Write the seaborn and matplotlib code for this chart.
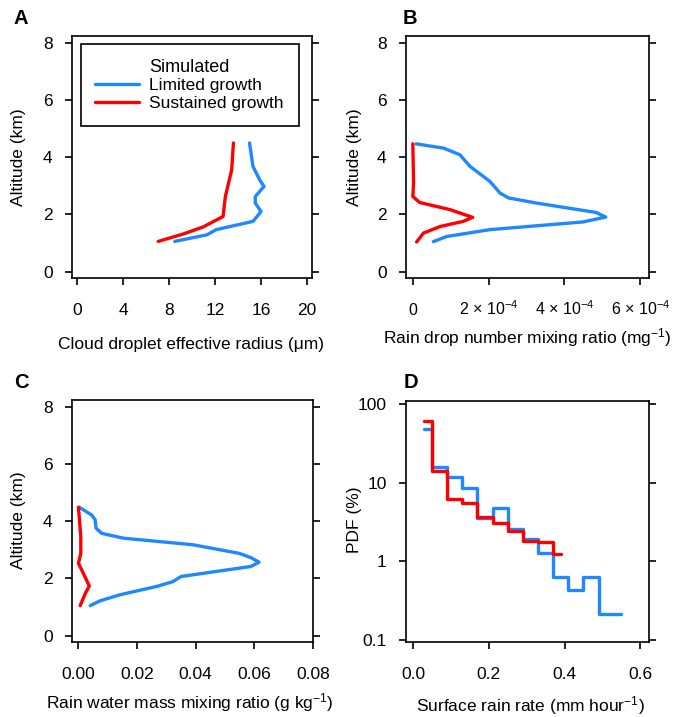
import numpy as np
import pandas as pd
import matplotlib
matplotlib.use("Agg")
import matplotlib.pyplot as plt
import seaborn as sns
from matplotlib.lines import Line2D

# ---------------- data ----------------
# Panel A: cloud droplet effective radius (um) vs altitude (km)
a_lim_r = [15.0, 15.3, 15.9, 16.26, 15.5, 15.5, 16.0, 15.3, 12.1, 11.3, 8.5]
a_lim_z = [4.5, 3.68, 3.2, 2.98, 2.63, 2.4, 2.1, 1.76, 1.47, 1.29, 1.06]
a_sus_r = [13.6, 13.45, 12.9, 12.7, 11.0, 9.25, 7.07]
a_sus_z = [4.5, 3.56, 2.63, 1.93, 1.57, 1.32, 1.06]

# Panel B: rain drop number mixing ratio (mg^-1)
b_lim_n = [0.087e-4, 0.81e-4, 1.24e-4, 1.51e-4, 2.03e-4, 2.30e-4, 2.52e-4, 3.26e-4,
           4.84e-4, 5.09e-4, 4.49e-4, 2.03e-4, 0.89e-4, 0.54e-4]
b_lim_z = [4.47, 4.32, 4.09, 3.68, 3.16, 2.75, 2.58, 2.40, 2.07, 1.91, 1.74, 1.47, 1.23, 1.05]
b_sus_n = [0.0, 0.02e-4, 0.0, 0.18e-4, 0.98e-4, 1.58e-4, 1.33e-4, 0.72e-4, 0.28e-4, 0.10e-4]
b_sus_z = [4.47, 3.1, 2.63, 2.42, 2.17, 1.90, 1.76, 1.58, 1.35, 1.04]

# Panel C: rain water mass mixing ratio (g kg^-1)
c_lim_q = [0.0003, 0.0045, 0.0057, 0.006, 0.0079, 0.0153, 0.039, 0.0548, 0.0588, 0.0616,
           0.0588, 0.035, 0.0322, 0.0266, 0.0141, 0.0074, 0.004]
c_lim_z = [4.49, 4.22, 4.05, 3.76, 3.58, 3.41, 3.18, 2.88, 2.73, 2.57, 2.42, 2.07, 1.89,
           1.72, 1.43, 1.22, 1.05]
c_sus_q = [0.0, 0.0008, 0.0008, 0.0, 0.0011, 0.0037, 0.0023, 0.0006]
c_sus_z = [4.49, 3.46, 2.88, 2.53, 2.30, 1.74, 1.47, 1.05]

# Panel D: PDF (%) of surface rain rate (mm hour^-1), step edges
d_lim_x = [0.03, 0.05, 0.09, 0.13, 0.17, 0.21, 0.25, 0.29, 0.33, 0.37, 0.41, 0.45, 0.49, 0.55]
d_lim_p = [48.1, 15.7, 11.7, 8.65, 3.52, 4.73, 2.56, 1.93, 1.27, 0.628, 0.425, 0.628, 0.213, 0.213]
d_sus_x = [0.03, 0.05, 0.09, 0.13, 0.17, 0.21, 0.25, 0.29, 0.33, 0.37, 0.39]
d_sus_p = [61.4, 14.1, 6.2, 5.47, 3.63, 3.05, 2.43, 1.83, 1.78, 1.23, 1.23]

series_names = ["Limited growth", "Sustained growth"]
palette = {"Limited growth": "#1E88FF", "Sustained growth": "#FF0000"}

alt_ticks = [0, 2, 4, 6, 8]
a_xticks = [0, 4, 8, 12, 16, 20]
b_xticks = [0, 2e-4, 4e-4, 6e-4]
b_xticklabels = ["0", "2 \u00d7 10$^{-4}$", "4 \u00d7 10$^{-4}$", "6 \u00d7 10$^{-4}$"]
c_xticks = [0, 0.02, 0.04, 0.06, 0.08]
c_xticklabels = ["0.00", "0.02", "0.04", "0.06", "0.08"]
d_xticks = [0, 0.2, 0.4, 0.6]
d_xticklabels = ["0.0", "0.2", "0.4", "0.6"]
d_yticks = [0.1, 1, 10, 100]
d_yticklabels = ["0.1", "1", "10", "100"]

# ---------------- style ----------------
sns.set_theme(style="ticks")
plt.rcParams["font.family"] = ["Liberation Sans", "DejaVu Sans"]
plt.rcParams["mathtext.fontset"] = "custom"
plt.rcParams["mathtext.rm"] = "Liberation Sans"
plt.rcParams["mathtext.it"] = "Liberation Sans:italic"
plt.rcParams["mathtext.bf"] = "Liberation Sans:bold"
plt.rcParams["text.color"] = "black"

FS = 12.5
LW = 2.4

def long_frame(xs_lim, zs_lim, xs_sus, zs_sus):
    return pd.concat([
        pd.DataFrame({"x": xs_lim, "y": zs_lim, "Simulated": series_names[0]}),
        pd.DataFrame({"x": xs_sus, "y": zs_sus, "Simulated": series_names[1]}),
    ], ignore_index=True)

fig = plt.figure(figsize=(6.79, 7.17), dpi=100)
W, H = 679, 717
def add_ax(l, t, r, b):
    return fig.add_axes([l / W, 1 - b / H, (r - l) / W, (b - t) / H])

axA = add_ax(72, 36, 312, 278)
axB = add_ax(406, 36, 649, 278)
axC = add_ax(72, 400, 313, 642)
axD = add_ax(406, 401, 649, 642)

def style_ax(ax):
    for s in ax.spines.values():
        s.set_linewidth(1.2)
        s.set_color("black")
    ax.tick_params(axis="both", which="major", direction="out", length=5, width=1.2,
                   labelsize=FS, colors="black")
    ax.tick_params(axis="x", pad=21.5)
    ax.tick_params(axis="y", pad=9, right=True, labelright=False)
    ax.grid(False)
    ax.set_xlabel("")
    ax.set_ylabel("")

def profile(ax, df, **kw):
    sns.lineplot(data=df, x="x", y="y", hue="Simulated", units="Simulated", estimator=None,
                 sort=False, palette=palette, lw=LW, ax=ax, legend=False, **kw)

profile(axA, long_frame(a_lim_r, a_lim_z, a_sus_r, a_sus_z))
profile(axB, long_frame(b_lim_n, b_lim_z, b_sus_n, b_sus_z))
profile(axC, long_frame(c_lim_q, c_lim_z, c_sus_q, c_sus_z))
profile(axD, long_frame(d_lim_x, d_lim_p, d_sus_x, d_sus_p), drawstyle="steps-post")

for ax in (axA, axB, axC):
    ax.set_ylim(-0.22, 8.24)
    ax.set_yticks(alt_ticks)
    ax.set_yticklabels([str(v) for v in alt_ticks])

axA.set_xlim(-0.43, 20.43)
axA.set_xticks(a_xticks)
axA.set_xticklabels([str(v) for v in a_xticks])

axB.set_xlim(-0.18e-4, 6.23e-4)
axB.set_xticks(b_xticks)
axB.set_xticklabels(b_xticklabels)

axC.set_xlim(-0.0022, 0.0797)
axC.set_xticks(c_xticks)
axC.set_xticklabels(c_xticklabels)

axD.set_yscale("log")
axD.set_ylim(0.0935, 110)
axD.set_yticks(d_yticks)
axD.set_yticklabels(d_yticklabels)
axD.minorticks_off()
axD.set_xlim(-0.0184, 0.623)
axD.set_xticks(d_xticks)
axD.set_xticklabels(d_xticklabels)

for ax in (axA, axB, axC, axD):
    style_ax(ax)
    for t in ax.get_xticklabels():
        t.set_verticalalignment("baseline")
axD.tick_params(axis="y", which="minor", right=False, left=False)
for t in axB.get_xticklabels():
    t.set_fontsize(11.5)

def ftext(x, y, s, **kw):
    fig.text(x / W, 1 - y / H, s, fontsize=FS, color="black", ha="center", va="center", **kw)

ftext(191, 345, "Cloud droplet effective radius (\u03bcm)")
ftext(527, 338, r"Rain drop number mixing ratio (mg$^{-1}$)")
ftext(190, 703, r"Rain water mass mixing ratio (g kg$^{-1}$)")
ftext(530, 706, r"Surface rain rate (mm hour$^{-1}$)")
ftext(19, 157, "Altitude (km)", rotation=90)
ftext(355, 157, "Altitude (km)", rotation=90)
ftext(19, 520, "Altitude (km)", rotation=90)
ftext(355, 520, "PDF (%)", rotation=90)

for lab, x, y in [("A", 21, 19), ("B", 410, 19), ("C", 21, 383), ("D", 411, 383)]:
    fig.text(x / W, 1 - y / H, lab, fontsize=14.5, fontweight="bold", color="black",
             ha="center", va="center")

# legend in panel A
handles = [Line2D([], [], color=palette[n], lw=LW) for n in series_names]
leg = axA.legend(handles, series_names, title="Simulated", loc="upper left",
                 bbox_to_anchor=(0.036, 0.967, 0.91, 0.0), mode="expand",
                 frameon=True, fancybox=False, fontsize=12.5, title_fontsize=13,
                 handlelength=2.5, borderpad=0.85, labelspacing=0.15, handletextpad=0.6,
                 borderaxespad=0.0)
leg.get_frame().set_edgecolor("black")
leg.get_frame().set_linewidth(1.2)
leg.get_frame().set_alpha(1)

fig.savefig("out.png", dpi=100, facecolor="white")
